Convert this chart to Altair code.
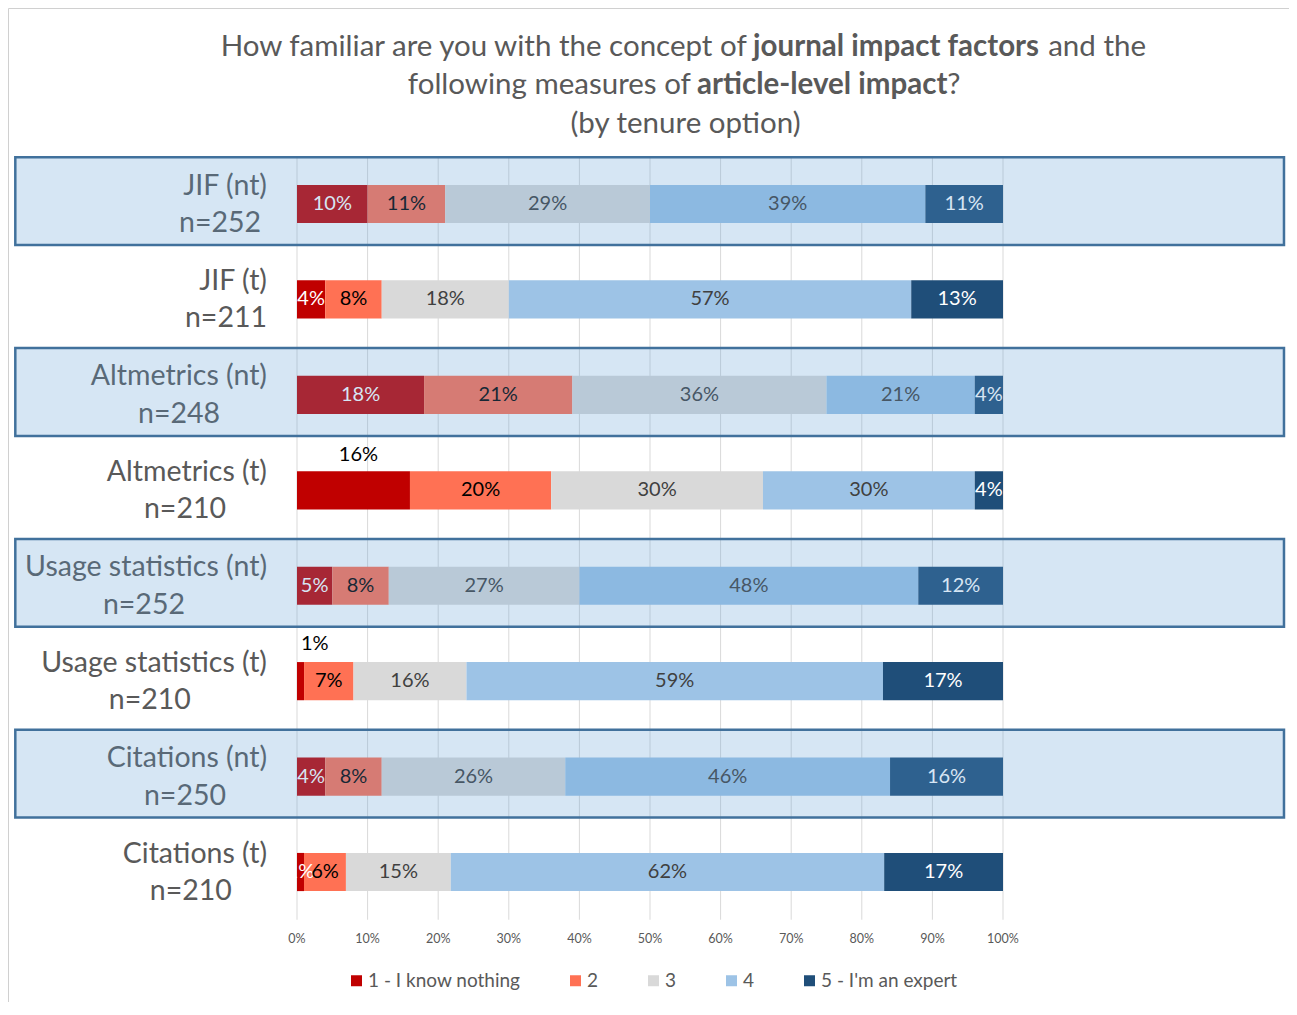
import altair as alt
import pandas as pd

# ---------------- data ----------------
categories = ["JIF (nt)", "JIF (t)", "Altmetrics (nt)", "Altmetrics (t)",
              "Usage statistics (nt)", "Usage statistics (t)",
              "Citations (nt)", "Citations (t)"]
respondents = [252, 211, 248, 210, 252, 210, 250, 210]
highlighted = [True, False, True, False, True, False, True, False]

level_names = ["1 - I know nothing", "2", "3", "4", "5 - I'm an expert"]
level1 = [10, 4, 18, 16, 5, 1, 4, 1]
level2 = [11, 8, 21, 20, 8, 7, 8, 6]
level3 = [29, 18, 36, 30, 27, 16, 26, 15]
level4 = [39, 57, 21, 30, 48, 59, 46, 62]
level5 = [11, 13, 4, 4, 12, 17, 16, 17]

tick_values = [0, 10, 20, 30, 40, 50, 60, 70, 80, 90, 100]
tick_labels = ["0%", "10%", "20%", "30%", "40%", "50%", "60%", "70%", "80%", "90%", "100%"]

title_line1 = ["How familiar are you with the concept of", "journal impact factors", "and the"]
title_line2 = ["following measures of", "article-level impact", "?"]
title_line3 = "(by tenure option)"

level_colors = ["#C00000", "#FF7154", "#D9D9D9", "#9DC3E6", "#1F4E79"]

# ---------------- tables ----------------
levels = [level1, level2, level3, level4, level5]
records = []
for i, cat in enumerate(categories):
    for k, vals in enumerate(levels):
        records.append({"row": i, "category": cat, "level": k + 1,
                        "level_name": level_names[k], "value": vals[i]})
df = pd.DataFrame(records)

cats_df = pd.DataFrame({"row": list(range(len(categories))), "category": categories,
                        "n": respondents, "hl": highlighted})
ticks_df = pd.DataFrame({"tick": tick_values, "label": tick_labels})

FONT = "Lato"
W, H = 1281, 994
PX = 7.06  # pixels per percent
X0 = 289   # pixel of 0%
xs = alt.Scale(domain=[-X0 / PX, (W - X0) / PX], nice=False, zero=False)
ys = alt.Scale(domain=[-196 / 95.43, (H - 196) / 95.43], reverse=True, nice=False, zero=False)

def X(field):
    return alt.X(field, scale=xs, axis=None)

def Y(field):
    return alt.Y(field, scale=ys, axis=None)

# ---------------- gridlines ----------------
grid = alt.Chart(ticks_df).mark_rule(color="#D9D9D9", strokeWidth=1).encode(
    x=X("tick:Q"), y=alt.Y(datum=-0.5, scale=ys, axis=None), y2=alt.datum(7.5)
)
tick_text = alt.Chart(ticks_df).mark_text(
    font=FONT, fontSize=12.5, color="#595959", baseline="middle"
).encode(x=X("tick:Q"), y=alt.Y(datum=7.70, scale=ys, axis=None), text="label:N")

# ---------------- bars ----------------
stacked = alt.Chart(df).transform_joinaggregate(
    total="sum(value)", groupby=["row"]
).transform_calculate(
    pct="100 * datum.value / datum.total"
).transform_stack(
    stack="pct", groupby=["row"], as_=["x0", "x1"],
    sort=[alt.SortField("level", order="ascending")]
).transform_calculate(
    y0="datum.row - 0.2", y1="datum.row + 0.2",
    xm="(datum.x0 + datum.x1) / 2",
    label="datum.value + '%'",
    tcolor="(datum.level == 1 || datum.level == 5) ? '#FFFFFF' : (datum.level == 2 ? '#000000' : '#404040')"
)

bars = stacked.mark_rect().encode(
    x=X("x0:Q"), x2="x1:Q", y=Y("y0:Q"), y2="y1:Q",
    color=alt.Color("level_name:N",
                    scale=alt.Scale(domain=level_names, range=level_colors),
                    sort=level_names,
                    legend=alt.Legend(title=None, orient="none", direction="horizontal",
                                      legendX=339, legendY=963, padding=0,
                                      symbolType="square", symbolSize=121,
                                      symbolStrokeWidth=0, labelFont=FONT,
                                      labelFontSize=19, labelColor="#595959",
                                      labelOffset=2, columnPadding=45))
)

outside_expr = "(datum.category == 'Altmetrics (t)' || datum.category == 'Usage statistics (t)') && datum.level == 1"

bar_text = stacked.transform_filter("!(" + outside_expr + ")").mark_text(
    font=FONT, fontSize=20, baseline="middle"
).encode(x=X("xm:Q"), y=Y("row:Q"), text="label:N",
         color=alt.Color("tcolor:N", scale=None))

out_text_a = stacked.transform_filter(
    "datum.category == 'Altmetrics (t)' && datum.level == 1"
).mark_text(font=FONT, fontSize=20, baseline="middle", color="#000000", dy=-35, dx=5).encode(
    x=X("xm:Q"), y=Y("row:Q"), text="label:N")

out_text_b = stacked.transform_filter(
    "datum.category == 'Usage statistics (t)' && datum.level == 1"
).mark_text(font=FONT, fontSize=20, baseline="middle", align="left",
            color="#000000", dy=-37, dx=4).encode(
    x=X("x0:Q"), y=Y("row:Q"), text="label:N")

# ---------------- category labels ----------------
cat_line1 = alt.Chart(cats_df).mark_text(
    font=FONT, fontSize=28.5, color="#595959", align="right", baseline="middle", dy=-18.5
).encode(x=alt.X(datum=-4.25, scale=xs, axis=None), y=Y("row:Q"), text="category:N")

cat_line2 = alt.Chart(cats_df).transform_calculate(
    ntext="'n=' + datum.n",
    cx="-4.25 - length(datum.category) * 1.66 / 2"
).mark_text(
    font=FONT, fontSize=28.5, color="#595959", align="center", baseline="middle", dy=19
).encode(x=X("cx:Q"), y=Y("row:Q"), text="ntext:N")

# ---------------- highlight boxes ----------------
boxes = alt.Chart(cats_df).transform_filter("datum.hl").transform_calculate(
    b0="datum.row - 0.49", b1="datum.row + 0.43"
).mark_rect(fill="#5B9BD5", fillOpacity=0.25, stroke="#41719C",
            strokeWidth=2.5, strokeOpacity=1).encode(
    x=alt.X(datum=-39.9, scale=xs, axis=None), x2=alt.datum(139.8),
    y=Y("b0:Q"), y2="b1:Q")

# ---------------- title ----------------
one = pd.DataFrame({"z": [0]})

def title_piece(text, xpos, ypos, align, bold=False):
    return alt.Chart(one).mark_text(
        text=text, font=FONT, fontSize=29.5, color="#595959",
        fontWeight="bold" if bold else "normal", align=align, baseline="middle"
    ).encode(x=alt.X(datum=xpos, scale=xs, axis=None),
             y=alt.Y(datum=ypos, scale=ys, axis=None))

t1 = -1.645
t2 = -1.247
t3 = -0.838
title_layers = [
    title_piece(title_line1[0], 63.7, t1, "right"),
    title_piece(title_line1[1], 64.6, t1, "left", True),
    title_piece(title_line1[2], 106.4, t1, "left"),
    title_piece(title_line2[0], 55.8, t2, "right"),
    title_piece(title_line2[1], 56.66, t2, "left", True),
    title_piece(title_line2[2], 92.1, t2, "left"),
    title_piece(title_line3, 55.03, t3, "center"),
]

chart = alt.layer(
    grid, bars, bar_text, out_text_a, out_text_b, cat_line1, cat_line2, boxes,
    tick_text, *title_layers
).properties(
    width=W, height=H, padding=0, autosize=alt.AutoSizeParams(type="none")
).configure_view(stroke="#D0D0D0", strokeWidth=1)

chart.save("out.html", embed_options={"renderer": "svg", "actions": False})
